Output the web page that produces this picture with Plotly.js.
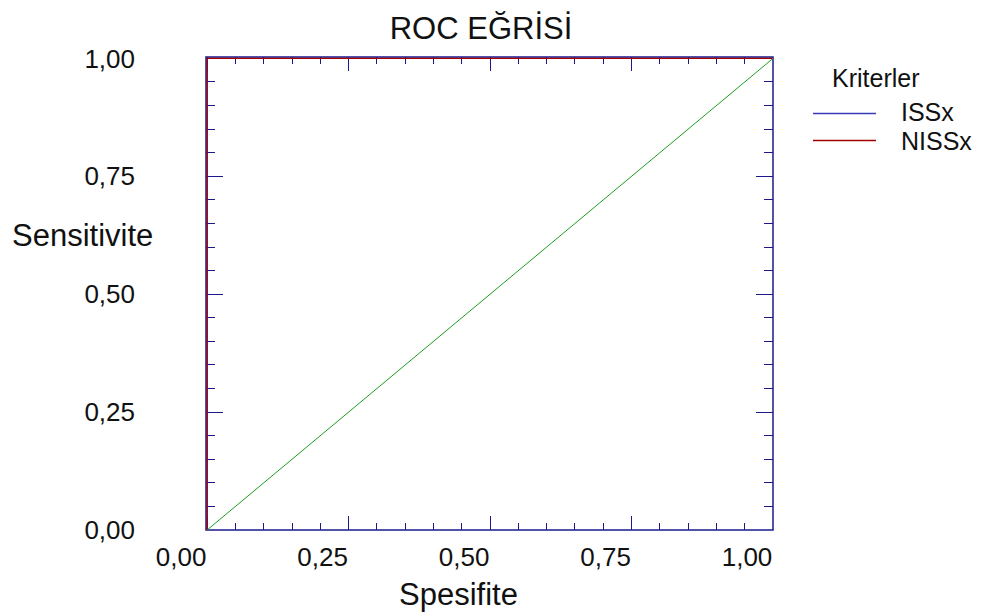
<!DOCTYPE html>
<html>
<head>
<meta charset="utf-8">
<script src="https://cdn.plot.ly/plotly-3.0.1.min.js"></script>
<style>html,body{margin:0;padding:0;background:#fff;}</style>
</head>
<body>
<div id="chart" style="width:982px;height:614px;"></div>
<script>
// Data
const seriesNames = ["ISSx", "NISSx"];
const seriesColors = ["#2a2aa8", "#a00000"];
const issX = [0, 0, 1];
const issY = [0, 1, 1];
const nissX = [0, 0, 1];
const nissY = [0, 1, 1];
const refX = [0, 1];
const refY = [0, 1];
const tickVals = [0, 0.25, 0.5, 0.75, 1];
const tickText = ["0,00", "0,25", "0,50", "0,75", "1,00"];

const FONT = "Liberation Sans, Arial, Helvetica, sans-serif";
const NAVY = "#1a1a8c";
const W = 982, H = 614, L = 206, R = 209, T = 57, B = 84;
const pw = W - L - R, ph = H - T - B;
const px = x => (x - L) / pw;
const py = y => (H - B - y) / ph;

const traces = [
  {x: issX, y: issY, type: "scatter", mode: "lines", name: seriesNames[0],
   line: {color: seriesColors[0], width: 1.3}, showlegend: false, hoverinfo: "skip"},
  {x: nissX, y: nissY, type: "scatter", mode: "lines", name: seriesNames[1],
   line: {color: seriesColors[1], width: 1.3}, showlegend: false, hoverinfo: "skip"},
  {x: refX, y: refY, type: "scatter", mode: "lines", name: "ref",
   line: {color: "#1e9e1e", width: 1}, showlegend: false, hoverinfo: "skip"}
];

const axisCommon = {
  tickmode: "array", tickvals: tickVals, ticktext: tickText,
  ticks: "inside", tickwidth: 1, tickcolor: NAVY,
  showline: false, mirror: "ticks",
  showgrid: false, zeroline: false, layer: "below traces", automargin: false,
  tickfont: {family: FONT, size: 26, color: "#111"}, fixedrange: true
};

const layout = {
  width: W, height: H,
  margin: {l: L, r: R, t: T, b: B, pad: 0},
  paper_bgcolor: "#fff", plot_bgcolor: "#fff",
  font: {family: FONT, color: "#111"},
  showlegend: false,
  title: {text: "ROC EĞRİSİ", font: {family: FONT, size: 31, color: "#111"},
          x: 481 / W, xref: "container", xanchor: "center",
          y: 1 - 28 / H, yref: "container", yanchor: "middle"},
  xaxis: Object.assign({}, axisCommon, {range: [-0.002, 1], ticklen: 14,
          minor: {dtick: 0.05, ticks: "inside", ticklen: 7, tickwidth: 1, tickcolor: NAVY, showgrid: false},
          ticklabelshift: -26, ticklabelstandoff: 9}),
  yaxis: Object.assign({}, axisCommon, {range: [0, 1.003], ticklen: 17,
          minor: {dtick: 0.05, ticks: "inside", ticklen: 9, tickwidth: 1, tickcolor: NAVY, showgrid: false},
          ticklabelstandoff: 70}),
  shapes: [
    {type: "rect", xref: "paper", yref: "paper", x0: 0, x1: 1, y0: 0, y1: 1, layer: "below",
     line: {color: NAVY, width: 1.5}, fillcolor: "rgba(0,0,0,0)"},
    {type: "line", xref: "paper", yref: "paper", x0: px(813), x1: px(876), y0: py(113.5), y1: py(113.5),
     line: {color: "#3a3ab8", width: 1.3}},
    {type: "line", xref: "paper", yref: "paper", x0: px(813), x1: px(876), y0: py(140.5), y1: py(140.5),
     line: {color: seriesColors[1], width: 1.3}}
  ],
  annotations: [
    {text: "Spesifite", xref: "paper", yref: "paper", x: px(458), y: py(594), xanchor: "center", yanchor: "middle",
     showarrow: false, font: {family: FONT, size: 31, color: "#111"}},
    {text: "Sensitivite", xref: "paper", yref: "paper", x: px(10), y: py(236), xanchor: "left", yanchor: "middle",
     showarrow: false, font: {family: FONT, size: 31, color: "#111"}},
    {text: "Kriterler", xref: "paper", yref: "paper", x: px(830), y: py(78), xanchor: "left", yanchor: "middle",
     showarrow: false, font: {family: FONT, size: 25, color: "#111"}},
    {text: seriesNames[0], xref: "paper", yref: "paper", x: px(899), y: py(112), xanchor: "left", yanchor: "middle",
     showarrow: false, font: {family: FONT, size: 25, color: "#111"}},
    {text: seriesNames[1], xref: "paper", yref: "paper", x: px(899), y: py(141), xanchor: "left", yanchor: "middle",
     showarrow: false, font: {family: FONT, size: 25, color: "#111"}}
  ]
};

Plotly.newPlot("chart", traces, layout, {displayModeBar: false, staticPlot: true});
</script>
</body>
</html>
